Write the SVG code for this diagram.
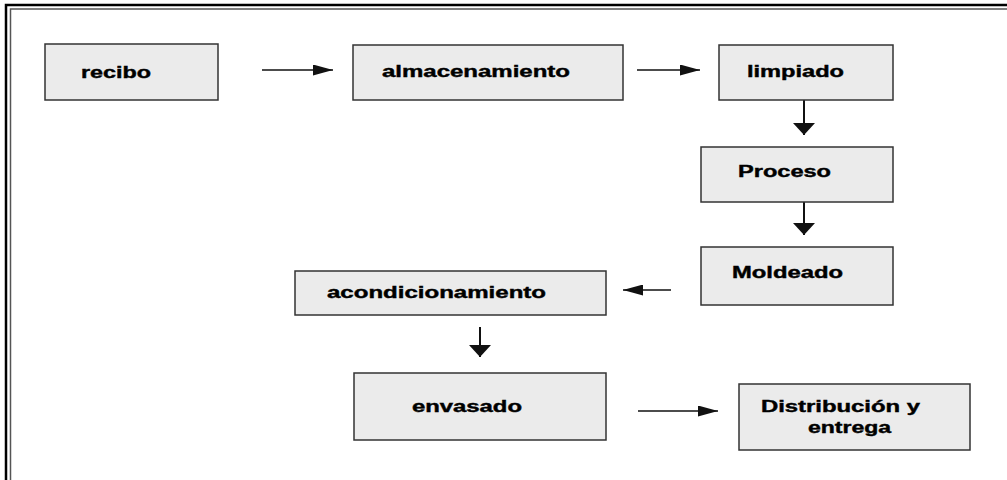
<svg xmlns="http://www.w3.org/2000/svg" width="1007" height="480" viewBox="0 0 1007 480">
  <defs>
    <style>
      .box { fill: #ebebeb; stroke: #333; stroke-width: 1.5; }
      .lbl { font-family: "Liberation Sans", Arial, sans-serif; font-weight: bold; font-size: 16px; fill: #000; stroke: #000; stroke-width: 0.4; }
      .flow { stroke: #111; stroke-width: 1.5; fill: none; }
      .flow-h { marker-end: url(#head-h); }
      .flow-v { marker-end: url(#head-v); stroke-width: 2; }
    </style>
    <marker id="head-h" markerUnits="userSpaceOnUse" markerWidth="20" markerHeight="11" refX="20" refY="5.5" orient="auto">
      <path d="M0,0 L20,5.5 L0,11 z" fill="#111"/>
    </marker>
    <marker id="head-v" markerUnits="userSpaceOnUse" markerWidth="12" markerHeight="22" refX="12" refY="11" orient="auto">
      <path d="M0,0 L12,11 L0,22 z" fill="#111"/>
    </marker>
  </defs>

  <rect width="1007" height="480" fill="#fff"/>

  <!-- page frame: heavy outer rule with a thin inner rule -->
  <g id="frame">
    <path d="M6,480 V5 H1007" fill="none" stroke="#000" stroke-width="2.5"/>
    <path d="M10.5,480 V9 H1007" fill="none" stroke="#555" stroke-width="1.5"/>
  </g>

  <g id="connectors">
    <line class="flow flow-h" x1="262" y1="70" x2="333" y2="70"/>
    <line class="flow flow-h" x1="637" y1="70" x2="700" y2="70"/>
    <line class="flow flow-v" x1="804" y1="100" x2="804" y2="135"/>
    <line class="flow flow-v" x1="804" y1="202" x2="804" y2="235"/>
    <line class="flow flow-h" x1="671" y1="290" x2="623" y2="290"/>
    <line class="flow flow-v" x1="480" y1="327" x2="480" y2="357"/>
    <line class="flow flow-h" x1="638" y1="411" x2="718" y2="411"/>
  </g>

  <g id="recibo">
    <rect class="box" x="45" y="44" width="173" height="56"/>
    <text class="lbl" x="81" y="78" textLength="70" lengthAdjust="spacingAndGlyphs">recibo</text>
  </g>

  <g id="almacenamiento">
    <rect class="box" x="353" y="45" width="270" height="55"/>
    <text class="lbl" x="382" y="77" textLength="188" lengthAdjust="spacingAndGlyphs">almacenamiento</text>
  </g>

  <g id="limpiado">
    <rect class="box" x="719" y="45" width="174" height="55"/>
    <text class="lbl" x="747" y="77" textLength="97" lengthAdjust="spacingAndGlyphs">limpiado</text>
  </g>

  <g id="proceso">
    <rect class="box" x="701" y="147" width="192" height="55"/>
    <text class="lbl" x="738" y="177" textLength="93" lengthAdjust="spacingAndGlyphs">Proceso</text>
  </g>

  <g id="moldeado">
    <rect class="box" x="701" y="247" width="192" height="58"/>
    <text class="lbl" x="732" y="278" textLength="111" lengthAdjust="spacingAndGlyphs">Moldeado</text>
  </g>

  <g id="acondicionamiento">
    <rect class="box" x="295" y="271" width="311" height="44"/>
    <text class="lbl" x="327" y="298" textLength="219" lengthAdjust="spacingAndGlyphs">acondicionamiento</text>
  </g>

  <g id="envasado">
    <rect class="box" x="354" y="373" width="252" height="67"/>
    <text class="lbl" x="412" y="412" textLength="110" lengthAdjust="spacingAndGlyphs">envasado</text>
  </g>

  <g id="distribucion">
    <rect class="box" x="739" y="384" width="231" height="66"/>
    <text class="lbl" x="761" y="412" textLength="159" lengthAdjust="spacingAndGlyphs">Distribución y</text>
    <text class="lbl" x="808" y="433" textLength="83" lengthAdjust="spacingAndGlyphs">entrega</text>
  </g>
</svg>
